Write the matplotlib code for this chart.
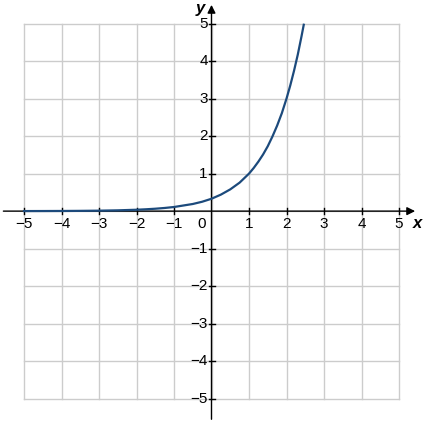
import matplotlib.pyplot as plt

plt.rcParams['font.family'] = ['Liberation Sans', 'DejaVu Sans']

# points
x_vals = [-5, -4.5, -4, -3.5, -3, -2.5, -2, -1.75, -1.5, -1.25, -1, -0.75,
          -0.5, -0.25, 0, 0.25, 0.5, 0.75, 1, 1.125, 1.25, 1.375, 1.5, 1.625,
          1.75, 1.875, 2, 2.1, 2.2, 2.3, 2.4, 2.46]
y_vals = [0.0014, 0.0024, 0.004, 0.007, 0.012, 0.021, 0.037, 0.049, 0.064,
          0.084, 0.11, 0.15, 0.19, 0.25, 0.33, 0.44, 0.58, 0.76, 1.0, 1.15,
          1.32, 1.51, 1.73, 1.99, 2.28, 2.61, 3.0, 3.35, 3.74, 4.17, 4.66, 4.97]

ticks = [-5, -4, -3, -2, -1, 1, 2, 3, 4, 5]
tick_labels = ['\u22125', '\u22124', '\u22123', '\u22122', '\u22121', '1', '2', '3', '4', '5']

fig = plt.figure(figsize=(4.23, 4.23), dpi=100)
ax = fig.add_axes([0, 0, 1, 1])
ax.set_xlim(-5.64, 5.64)
ax.set_ylim(-5.65, 5.63)
ax.axis('off')

grid_col = '#cccccc'
for t in range(-5, 6):
    ax.plot([t, t], [-5, 5], color=grid_col, lw=1, zorder=1)
    ax.plot([-5, 5], [t, t], color=grid_col, lw=1, zorder=1)

# axes with arrows
ax.annotate('', xy=(5.43, 0), xytext=(-5.55, 0),
            arrowprops=dict(arrowstyle='-|>', color='black', lw=1,
                            mutation_scale=12, shrinkA=0, shrinkB=0), zorder=3)
ax.annotate('', xy=(0, 5.5), xytext=(0, -5.55),
            arrowprops=dict(arrowstyle='-|>', color='black', lw=1,
                            mutation_scale=12, shrinkA=0, shrinkB=0), zorder=3)

for t, lab in zip(ticks, tick_labels):
    ax.plot([t, t], [-0.08, 0.08], color='black', lw=1, zorder=3)
    ax.plot([-0.08, 0.08], [t, t], color='black', lw=1, zorder=3)
    ax.text(t, -0.16, lab, ha='center', va='top', fontsize=11)
    ax.text(-0.1, t, lab, ha='right', va='center', fontsize=11)

ax.text(-0.16, -0.16, '0', ha='right', va='top', fontsize=11)
ax.text(5.5, -0.12, 'x', ha='center', va='top', fontsize=12,
        style='italic', fontweight='bold')
ax.text(-0.3, 5.6, 'y', ha='center', va='top', fontsize=12,
        style='italic', fontweight='bold')

ax.plot(x_vals, y_vals, color='#1c4a7c', lw=1.6, zorder=4)

fig.savefig('out.png', dpi=100)
